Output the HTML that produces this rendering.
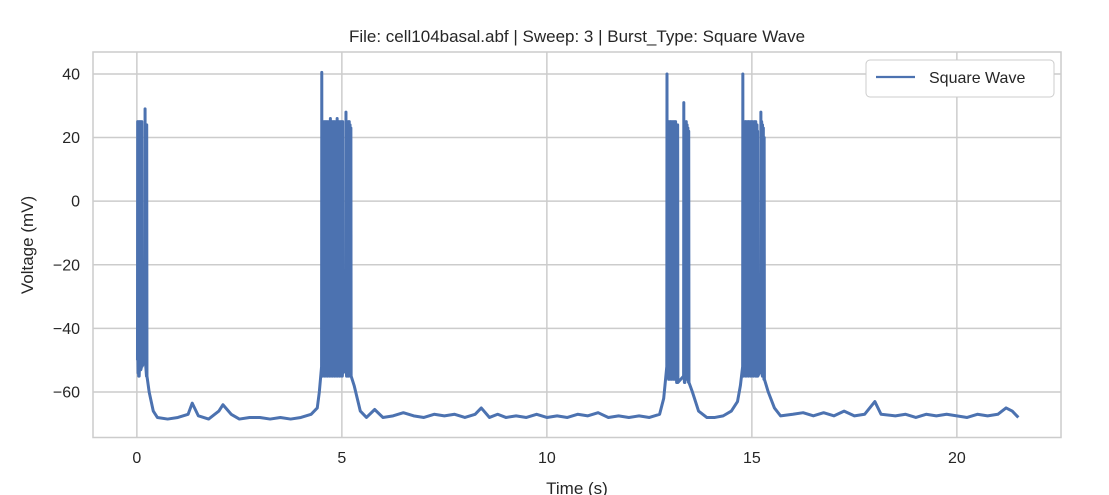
<!DOCTYPE html>
<html><head><meta charset="utf-8"><style>
html,body{margin:0;padding:0;background:#fff;width:1109px;height:495px;overflow:hidden}
text{font-family:"Liberation Sans","DejaVu Sans",sans-serif;fill:#262626}
</style></head><body>
<svg id="chart" width="1109" height="495" viewBox="0 0 1109 495" xmlns="http://www.w3.org/2000/svg">
<rect x="0" y="0" width="1109" height="495" fill="#fff"/>
<g id="grid"></g>
<rect x="93" y="52" width="968" height="385.5" fill="none" stroke="#cccccc" stroke-width="1.5"/>
<g id="ticks"></g>
<path id="trace" fill="none" stroke="#4c72b0" stroke-width="3" stroke-linejoin="round"/>
<text x="577" y="42" font-size="17" text-anchor="middle">File: cell104basal.abf | Sweep: 3 | Burst_Type: Square Wave</text>
<text x="577" y="494" font-size="17" text-anchor="middle">Time (s)</text>
<text x="33" y="245" font-size="17" text-anchor="middle" transform="rotate(-90 33 245)">Voltage (mV)</text>
<g>
<rect x="866" y="60" width="188" height="37" rx="4" fill="#fff" stroke="#cccccc" stroke-width="1"/>
<line x1="876" y1="77" x2="915" y2="77" stroke="#4c72b0" stroke-width="2.2"/>
<text x="929" y="83" font-size="16">Square Wave</text>
</g>
</svg>
<script>
const xTicks=[0,5,10,15,20];
const yTicks=[40,20,0,-20,-40,-60];
const baseT=[0.0,0.3,0.4,0.5,0.75,1.0,1.25,1.35,1.5,1.75,2.0,2.1,2.3,2.5,2.75,3.0,3.25,3.5,3.75,4.0,4.25,4.4,4.45,5.3,5.45,5.6,5.8,6.0,6.25,6.5,6.75,7.0,7.25,7.5,7.75,8.0,8.25,8.4,8.6,8.8,9.0,9.25,9.5,9.75,10.0,10.25,10.5,10.75,11.0,11.25,11.5,11.75,12.0,12.25,12.5,12.75,12.85,13.55,13.7,13.9,14.1,14.3,14.5,14.65,14.72,15.4,15.55,15.7,16.0,16.25,16.5,16.75,17.0,17.25,17.5,17.75,18.0,18.15,18.5,18.75,19.0,19.25,19.5,19.75,20.0,20.25,20.5,20.75,21.0,21.2,21.35,21.5];
const baseV=[-50,-60,-66,-68,-68.5,-68,-67,-63.5,-67.5,-68.5,-66,-64,-67,-68.5,-68,-68,-68.5,-68,-68.5,-68,-67,-65,-60,-58,-66,-68,-65.5,-68,-67.5,-66.5,-67.5,-68,-67,-67.5,-67,-68,-67,-65,-68,-67,-68,-67.5,-68,-67,-68,-67.5,-68,-67,-67.5,-66.5,-68,-67.5,-68,-67.5,-68,-67,-62,-60,-66,-68,-68,-67.5,-66,-63,-58,-60,-65,-67.5,-67,-66.5,-67.5,-66.5,-67.5,-66,-67.5,-67,-63,-67,-67.5,-67,-68,-67,-67.5,-67,-67.5,-68,-67,-67.5,-67,-65,-66,-68];
const spikeT=[0.02,0.035,0.05,0.07,0.09,0.12,0.2,0.24,
4.51,4.525,4.54,4.555,4.57,4.585,4.6,4.615,4.63,4.645,4.66,4.675,4.69,4.705,4.72,4.735,4.75,4.765,4.78,4.795,4.81,4.825,4.84,4.855,4.87,4.885,4.9,4.915,4.93,4.945,4.96,4.975,4.99,5.005,5.02,5.1,5.12,5.14,5.16,5.18,5.2,5.22,
12.93,12.945,12.96,12.975,12.99,13.005,13.02,13.035,13.05,13.065,13.08,13.095,13.11,13.125,13.14,13.155,13.17,13.19,13.34,13.36,13.38,13.4,13.42,13.44,13.46,
14.78,14.795,14.81,14.825,14.84,14.855,14.87,14.885,14.9,14.915,14.93,14.945,14.96,14.975,14.99,15.005,15.02,15.035,15.05,15.065,15.08,15.095,15.11,15.125,15.14,15.22,15.24,15.26,15.28,15.3];
const spikePeak=[25,24,25,25,25,25,29,24,
40.5,21,25,20,25,22,25,24,25,22,25,21,25,23,26,25,24,25,22,25,24,25,23,25,24,26,25,24,25,23,25,24,25,24,25,28,25,24,25,25,24,23,
40,21,24,25,24,25,25,24,25,23,25,24,25,24,25,24,23,24,31,25,24,25,24,23,22,
40,21,25,22,25,25,24,25,23,25,25,24,25,23,25,24,25,23,24,25,24,25,23,24,22,28,25,24,23,20];
const spikeTrough=[-50,-54,-55,-52,-53,-52,-50,-55,
-52,-55,-53,-54,-52,-55,-53,-54,-52,-55,-53,-54,-52,-55,-53,-54,-52,-55,-53,-54,-52,-55,-53,-54,-52,-55,-53,-54,-52,-55,-53,-54,-52,-55,-54,-53,-55,-54,-55,-53,-54,-55,
-52,-55,-54,-56,-53,-55,-54,-56,-53,-55,-54,-56,-55,-54,-56,-55,-57,-57,-55,-57,-54,-56,-55,-56,-57,
-52,-55,-53,-54,-52,-55,-53,-54,-52,-55,-53,-54,-52,-55,-53,-54,-52,-55,-53,-54,-52,-55,-53,-54,-55,-53,-54,-55,-54,-56];
const NS='http://www.w3.org/2000/svg';
const X0=93,X1=1061,Y0=52,Y1=437.5;
const xMin=-1.07,xMax=22.54,yMin=-74.3,yMax=46.9;
function sx(t){return X0+(t-xMin)/(xMax-xMin)*(X1-X0);}
function sy(v){return Y1-(v-yMin)/(yMax-yMin)*(Y1-Y0);}
const grid=document.getElementById('grid'),ticks=document.getElementById('ticks');
xTicks.forEach(t=>{
  const l=document.createElementNS(NS,'line');
  
  
  l.setAttribute('x1',sx(t));l.setAttribute('x2',sx(t));l.setAttribute('y1',Y0);l.setAttribute('y2',Y1);
  l.setAttribute('stroke','#cccccc');l.setAttribute('stroke-width','1.5');grid.appendChild(l);
  const tx=document.createElementNS(NS,'text');
  
  
  tx.setAttribute('x',sx(t));tx.setAttribute('y',463);tx.setAttribute('font-size','16');tx.setAttribute('text-anchor','middle');
  tx.textContent=String(t);ticks.appendChild(tx);
});
yTicks.forEach(v=>{
  const l=document.createElementNS(NS,'line');
  
  
  l.setAttribute('x1',X0);l.setAttribute('x2',X1);l.setAttribute('y1',sy(v));l.setAttribute('y2',sy(v));
  l.setAttribute('stroke','#cccccc');l.setAttribute('stroke-width','1.5');grid.appendChild(l);
  const tx=document.createElementNS(NS,'text');
  
  
  tx.setAttribute('x',80);tx.setAttribute('y',sy(v)+5.5);tx.setAttribute('font-size','16');tx.setAttribute('text-anchor','end');
  tx.textContent=(v<0?'\u2212'+Math.abs(v):String(v));ticks.appendChild(tx);
});
const pts=[];
baseT.forEach((t,i)=>pts.push([t,baseV[i]]));
spikeT.forEach((t,i)=>{pts.push([t-0.005,spikeTrough[i]]);pts.push([t,spikePeak[i]]);pts.push([t+0.006,spikeTrough[i]]);});
pts.sort((a,b)=>a[0]-b[0]);
document.getElementById('trace').setAttribute('d',pts.map((p,i)=>(i?'L':'M')+sx(p[0]).toFixed(2)+','+sy(p[1]).toFixed(2)).join(''));
</script>
</body></html>
